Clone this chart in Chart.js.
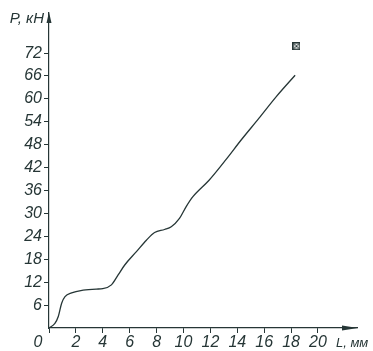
<!DOCTYPE html>
<html>
<head>
  <meta charset="utf-8">
  <title>P-L diagram</title>
  <script src="https://cdn.jsdelivr.net/npm/chart.js"></script>
  <style>
    html, body { margin: 0; padding: 0; background: #fff; }
    .chart-box { position: relative; width: 373px; height: 351px; }
  </style>
</head>
<body>
  <div class="chart-box">
    <canvas id="plChart"></canvas>
  </div>

  <script>
    // elongation L, mm and load P, kN
    const elongation = [0, 0.44, 0.69, 0.94, 1.19, 1.68, 2.54, 3.53, 4.0, 4.64, 5.14, 5.63, 6.5, 7.24, 7.85, 8.59, 9.09, 9.7, 10.2, 10.7, 11.9, 13.2, 14.3, 15.6, 16.9, 18.3];
    const load = [0, 1.2, 3.0, 6.5, 8.2, 9.2, 9.9, 10.2, 10.3, 11.3, 13.9, 16.5, 20.0, 23.0, 25.0, 25.8, 26.5, 28.7, 31.8, 34.4, 38.7, 44.3, 49.3, 54.9, 60.6, 66.2];
    // breaking point marker
    const breakL = [18.4];
    const breakP = [73.8];
    const xTicks = [0, 2, 4, 6, 8, 10, 12, 14, 16, 18, 20];
    const yTicks = [6, 12, 18, 24, 30, 36, 42, 48, 54, 60, 66, 72];

    const ink = '#263636';
    const font = { family: "'Liberation Sans', sans-serif", style: 'italic', size: 16 };

    // little boxed cross for the break point
    const mark = document.createElement('canvas');
    mark.width = 8; mark.height = 8;
    const m = mark.getContext('2d');
    m.fillStyle = ink; m.fillRect(0, 0, 8, 8);
    m.fillStyle = '#fff'; m.fillRect(1.5, 1.5, 5, 5);
    m.strokeStyle = ink; m.lineWidth = 1;
    m.beginPath(); m.moveTo(2, 2); m.lineTo(6, 6); m.moveTo(6, 2); m.lineTo(2, 6); m.stroke();

    const axisDecor = {
      id: 'axisDecor',
      afterDraw(chart) {
        const { ctx, chartArea: a } = chart;
        ctx.save();
        ctx.fillStyle = ink;
        // arrow heads
        ctx.beginPath();
        ctx.moveTo(a.left, a.top - 1);
        ctx.lineTo(a.left - 2.5, a.top + 10);
        ctx.lineTo(a.left + 2.5, a.top + 10);
        ctx.closePath(); ctx.fill();
        ctx.beginPath();
        ctx.moveTo(a.right + 1, a.bottom);
        ctx.lineTo(a.right - 15, a.bottom - 2.5);
        ctx.lineTo(a.right - 15, a.bottom + 2.5);
        ctx.closePath(); ctx.fill();
        // axis names
        ctx.textBaseline = 'middle';
        ctx.textAlign = 'right';
        ctx.font = 'italic 15px ' + font.family;
        ctx.fillText('P, кН', a.left - 5, 19);
        ctx.textAlign = 'left';
        ctx.font = 'italic 13px ' + font.family;
        ctx.fillText('L, мм', 336, 343);
        ctx.restore();
      }
    };

    const ctx = document.getElementById('plChart').getContext('2d');
    new Chart(ctx, {
      type: 'scatter',
      data: {
        datasets: [
          {
            data: elongation.map((x, i) => ({ x: x, y: load[i] })),
            showLine: true,
            borderColor: ink,
            borderWidth: 1.3,
            pointRadius: 0,
            cubicInterpolationMode: 'monotone'
          },
          {
            data: breakL.map((x, i) => ({ x: x, y: breakP[i] })),
            pointStyle: mark,
            pointRadius: 4
          }
        ]
      },
      options: {
        responsive: true,
        maintainAspectRatio: false,
        animation: false,
        layout: { padding: { left: 0, top: 13, right: 16, bottom: 0 } },
        plugins: { legend: { display: false }, tooltip: { enabled: false } },
        scales: {
          x: {
            type: 'linear',
            min: 0,
            max: 22.9,
            afterBuildTicks: s => { s.ticks = xTicks.map(v => ({ value: v })); },
            afterFit: s => { s.height = 23; },
            grid: { display: true, drawOnChartArea: false, drawTicks: true, tickLength: 5, color: ink },
            border: { display: true, color: ink, width: 1.2 },
            ticks: {
              color: ink, font: font, padding: 0, maxRotation: 0, autoSkip: false,
              callback: v => v === 0 ? '0     ' : String(v)
            }
          },
          y: {
            min: 0,
            max: 82.5,
            afterBuildTicks: s => { s.ticks = yTicks.map(v => ({ value: v })); },
            afterFit: s => { s.width = 49; },
            grid: { display: true, drawOnChartArea: false, drawTicks: true, tickLength: 5, color: ink },
            border: { display: true, color: ink, width: 1.2 },
            ticks: { color: ink, font: font, padding: 2, autoSkip: false }
          }
        }
      },
      plugins: [axisDecor]
    });
  </script>
</body>
</html>
